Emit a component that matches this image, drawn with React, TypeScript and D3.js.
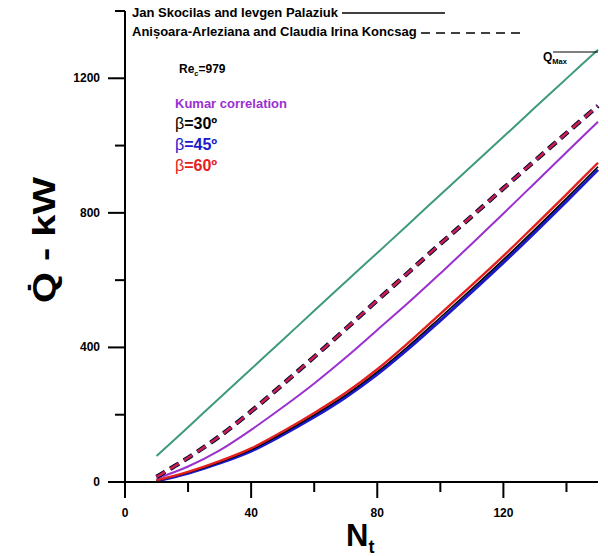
import React from "react";
import * as d3 from "d3";

// Number of tubes
const tubeCounts = [10, 20, 30, 40, 50, 60, 70, 80, 90, 100, 110, 120, 130, 140, 150];

// Maximum heat duty
const qMax = [77, 163, 250, 336, 422, 509, 595, 681, 767, 854, 940, 1026, 1113, 1199, 1285];

// Kumar correlation
const qKumar = [10, 46, 94, 155, 222, 293, 370, 452, 534, 620, 708, 798, 889, 980, 1071];

// Skocilas & Palaziuk (solid)
const qSolid30 = [4, 28, 59, 96, 145, 199, 258, 327, 405, 489, 574, 661, 751, 843, 937];
const qSolid45 = [3, 26, 56, 92, 140, 193, 252, 320, 397, 480, 565, 652, 742, 834, 928];
const qSolid60 = [5, 30, 62, 100, 150, 205, 265, 335, 415, 500, 585, 672, 763, 855, 949];

// Koncsag (dashed)
const qDashed30 = [15, 72, 136, 210, 290, 372, 455, 540, 624, 708, 790, 873, 955, 1037, 1118];
const qDashed45 = [15, 72, 136, 210, 290, 372, 455, 540, 624, 708, 790, 873, 955, 1037, 1118];
const qDashed60 = [15, 72, 136, 210, 290, 372, 455, 540, 624, 708, 790, 873, 955, 1037, 1118];

const xMajorTicks = [0, 40, 80, 120];
const xMinorTicks = [20, 60, 100, 140];
const yMajorTicks = [0, 400, 800, 1200];
const yMinorTicks = [200, 600, 1000, 1400];

const W = 608;
const H = 556;
const FONT = "'Liberation Sans', Arial, sans-serif";

export default function App() {
  const x = d3.scaleLinear().domain([0, 150]).range([125, 598]);
  const y = d3.scaleLinear().domain([0, 1400]).range([482, 11]);

  const line = (vals: number[]) =>
    d3
      .line<number>()
      .x((_, i) => x(tubeCounts[i]))
      .y((v) => y(v))
      .curve(d3.curveCatmullRom)(vals) as string;

  const x0 = x(0);
  const y0 = y(0);

  return (
    <svg
      width={W}
      height={H}
      style={{ position: "absolute", left: 0, top: 0, background: "#fff" }}
      fontFamily={FONT}
    >
      <rect x={0} y={0} width={W} height={H} fill="#fff" />

      {/* series */}
      <path d={line(qMax)} fill="none" stroke="#3f9a7c" strokeWidth={2} />
      <path d={line(qKumar)} fill="none" stroke="#9b30d0" strokeWidth={2} />

      <path d={line(qDashed30)} fill="none" stroke="#000" strokeWidth={4.5} strokeDasharray="10,6" />
      <path d={line(qDashed45)} fill="none" stroke="#1a1acc" strokeWidth={3} strokeDasharray="10,6" />
      <path d={line(qDashed60)} fill="none" stroke="#d0203c" strokeWidth={2.4} strokeDasharray="10,6" />

      <path d={line(qSolid45)} fill="none" stroke="#1a1acc" strokeWidth={3} />
      <path d={line(qSolid30)} fill="none" stroke="#000" strokeWidth={1.6} />
      <path d={line(qSolid60)} fill="none" stroke="#e3201e" strokeWidth={2.4} />

      {/* axes */}
      <line x1={108} x2={598} y1={y0} y2={y0} stroke="#000" strokeWidth={2} />
      <line x1={x0} x2={x0} y1={y(1400)} y2={498} stroke="#000" strokeWidth={2} />

      {xMajorTicks.map((t) => (
        <g key={"xM" + t}>
          <line x1={x(t)} x2={x(t)} y1={y0} y2={y0 + 16} stroke="#000" strokeWidth={2} />
          <text x={x(t)} y={517} textAnchor="middle" fontSize={12} fontWeight="bold">
            {t}
          </text>
        </g>
      ))}
      {xMinorTicks.map((t) => (
        <line key={"xm" + t} x1={x(t)} x2={x(t)} y1={y0} y2={y0 + 10} stroke="#000" strokeWidth={2} />
      ))}
      {yMajorTicks.map((t) => (
        <g key={"yM" + t}>
          <line x1={x0 - 17} x2={x0} y1={y(t)} y2={y(t)} stroke="#000" strokeWidth={2} />
          <text x={100} y={y(t) + 4} textAnchor="end" fontSize={12} fontWeight="bold">
            {t}
          </text>
        </g>
      ))}
      {yMinorTicks.map((t) => (
        <line key={"ym" + t} x1={x0 - 10} x2={x0} y1={y(t)} y2={y(t)} stroke="#000" strokeWidth={2} />
      ))}

      {/* axis titles */}
      <text
        transform="translate(55,240) rotate(-90)"
        textAnchor="middle"
        fontSize={31}
        fontWeight="bold"
        textLength={126}
        lengthAdjust="spacingAndGlyphs"
      >
        {"Q\u0307 - kW"}
      </text>
      <text x={346} y={546} fontSize={31} fontWeight="bold">
        N<tspan fontSize={18} dy={7}>t</tspan>
      </text>

      {/* source legend */}
      <text x={132} y={17} fontSize={13} fontWeight="bold">
        Jan Skocilas and Ievgen Palaziuk
      </text>
      <line x1={342} x2={445} y1={13} y2={13} stroke="#000" strokeWidth={1.5} />
      <text x={132} y={36} fontSize={13} fontWeight="bold">
        Anișoara-Arleziana and Claudia Irina Koncsag
      </text>
      <line x1={421} x2={526} y1={33} y2={33} stroke="#000" strokeWidth={1.5} strokeDasharray="9,6" />

      {/* annotations */}
      <text x={179} y={73} fontSize={12} fontWeight="bold">
        Re<tspan fontSize={7.5} dy={3}>c</tspan>
        <tspan dy={-3}>=979</tspan>
      </text>
      <text x={175} y={108} fontSize={13} fontWeight="bold" fill="#9b30d0">
        Kumar correlation
      </text>
      <text x={175} y={129} fontSize={16} fill="#000">
        β<tspan fontWeight="bold">=30º</tspan>
      </text>
      <text x={175} y={150} fontSize={16} fill="#1a1acc">
        β<tspan fontWeight="bold">=45º</tspan>
      </text>
      <text x={175} y={171} fontSize={16} fill="#e3201e">
        β<tspan fontWeight="bold">=60º</tspan>
      </text>

      <text x={543} y={61} fontSize={12} fontWeight="bold">
        Q<tspan fontSize={7.5} dy={3}>Max</tspan>
      </text>
      <line x1={553} x2={x(150)} y1={52} y2={52} stroke="#000" strokeWidth={1.2} />
    </svg>
  );
}
